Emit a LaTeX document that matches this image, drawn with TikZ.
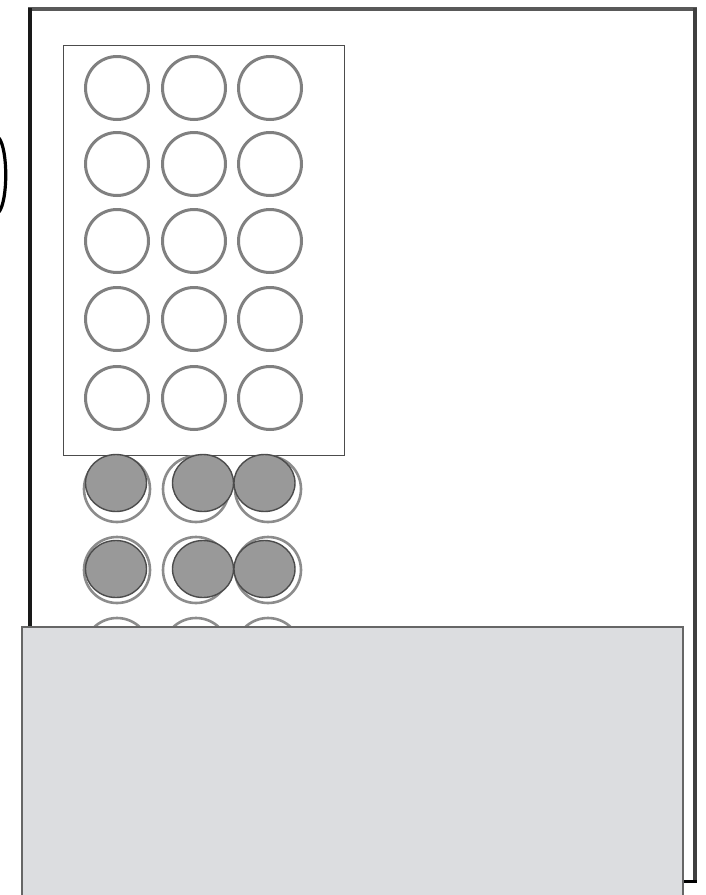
\documentclass[tikz,border=0pt]{standalone}
\usetikzlibrary{shapes.geometric}
\begin{document}
\begin{tikzpicture}[x=1pt,y=-1pt,
  ring/.style={circle,draw=black!50,line width=3pt,minimum size=63pt,inner sep=0pt},
  ringb/.style={circle,draw=black!45,line width=2.6pt,minimum size=66pt,inner sep=0pt},
  dot/.style={ellipse,draw=black!70,fill=black!40,line width=1.4pt,minimum width=61pt,minimum height=57pt,inner sep=0pt},
  frame/.style={line width=3.5pt},
  tray/.style={draw=black!70,line width=1pt}]
\useasboundingbox (0,0) rectangle (706,895);
\fill[white] (0,0) rectangle (706,895);
% outer frame
\draw[frame,black!65] (28,9) -- (697,9);
\draw[frame,black!90] (30,8) -- (30,640);
\draw[frame,black!75] (695,8) -- (695,881);
\draw[line width=3pt,black] (683,881) -- (697,881);
% partial bracket at left edge
\draw[line width=3.2pt,black] (-1,138) .. controls (8,150) and (8,200) .. (-1,212);
% inner tray
\draw[tray] (63,45) rectangle (344,455);
% open rings, five rows
\foreach \r/\yy in {1/88,2/164,3/241,4/319,5/398}{
  \foreach \c/\xx in {1/117,2/194,3/270}{
    \node[ring] (o\r\c) at (\xx,\yy) {};
  }
}
% rings behind filled wells
\foreach \r/\yy in {6/489,7/570,8/651}{
  \foreach \c/\xx in {1/117,2/196,3/268}{
    \node[ringb] (o\r\c) at (\xx,\yy) {};
  }
}
% filled wells
\foreach \r/\yy in {6/483,7/569}{
  \foreach \c/\xx in {1/116,2/203,3/264.5}{
    \node[dot] (f\r\c) at (\xx,\yy) {};
  }
}
% grey panel
\fill[fill={rgb,255:red,220;green,221;blue,224},draw=black!60,line width=1.2pt] (22,627) rectangle (683,900);
\end{tikzpicture}
\end{document}
